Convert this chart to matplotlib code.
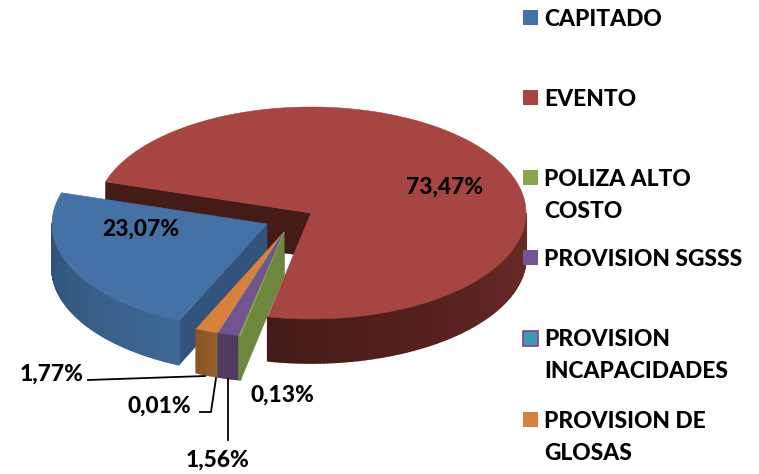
import matplotlib
matplotlib.use("Agg")
import matplotlib.pyplot as plt
import numpy as np
from matplotlib.colors import to_rgb
from matplotlib.patches import Polygon, Rectangle

plt.rcParams['font.family'] = ['Lato', 'DejaVu Sans']

categories = ["CAPITADO", "EVENTO", "POLIZA ALTO\nCOSTO", "PROVISION SGSSS",
              "PROVISION\nINCAPACIDADES", "PROVISION DE\nGLOSAS"]
values = [23.07, 73.47, 0.13, 1.56, 0.01, 1.77]
labels = ["23,07%", "73,47%", "0,13%", "1,56%", "0,01%", "1,77%"]

# pie geometry, in pixels of the picture
center = (311, 213)
rx, ry = 215, 106
depth = 44
start_angle = 245.9
shift = [(-44, 11), (0, 0), (-27, 19), (-27, 19), (-27, 19), (-27, 19)]

top_col = ["#4571a4", "#a64541", "#8aa64e", "#71558f", "#4198af", "#d8813c"]
face_col = ["#32547c", "#451b18", "#6c883e", "#4f3a60", "#2f7080", "#955d2b"]
side_a = ["#3f6896", "#6c2b28", "#6c883e", "#4f3a60", "#2f7080", "#9a602c"]
side_b = ["#2f5278", "#431a17", "#6c883e", "#4f3a60", "#2f7080", "#8a5627"]
legend_y = [18, 98, 178, 258, 339, 420]
WEIGHT = 900
FS = 16.4


def pt(cx, cy, ang, dz=0):
    a = np.radians(ang)
    return cx + rx*np.cos(a), cy - ry*np.sin(a) + dz


def draw_slice(ax, i, s, e):
    cx = center[0] + shift[i][0]
    cy = center[1] + shift[i][1]
    apex = (cx, cy)
    # cut faces that look at the viewer
    if np.cos(np.radians(s)) < 0:
        ax.add_patch(Polygon([apex, pt(cx, cy, s), pt(cx, cy, s, depth), (cx, cy+depth)],
                             fc=face_col[i], ec=face_col[i], lw=0.4))
    if np.cos(np.radians(e)) > 0:
        ax.add_patch(Polygon([apex, pt(cx, cy, e), pt(cx, cy, e, depth), (cx, cy+depth)],
                             fc=face_col[i], ec=face_col[i], lw=0.4))
    # outer wall, front half only
    angs = np.linspace(s, e, max(int(abs(s-e)), 2) + 1)
    fronts = [(a0, a1) for a0, a1 in zip(angs[:-1], angs[1:]) if np.sin(np.radians((a0+a1)/2)) < 0]
    c0, c1 = np.array(to_rgb(side_a[i])), np.array(to_rgb(side_b[i]))
    for k, (a0, a1) in enumerate(fronts):
        col = c0 + (c1-c0)*k/max(len(fronts)-1, 1)
        ax.add_patch(Polygon([pt(cx, cy, a0), pt(cx, cy, a1), pt(cx, cy, a1, depth), pt(cx, cy, a0, depth)],
                             fc=col, ec=col, lw=1.2, joinstyle="round"))
    # top
    t = np.linspace(s, e, max(int(abs(s-e)), 2) + 1)
    ax.add_patch(Polygon([apex] + [pt(cx, cy, a) for a in t], fc=top_col[i], ec=top_col[i], lw=0.4))


fig = plt.figure(figsize=(7.59, 4.74), dpi=100)
ax = fig.add_axes([0, 0, 1, 1])
ax.set_xlim(0, 759)
ax.set_ylim(474, 0)
ax.axis("off")

total = sum(values)
spans = [v/total*360 for v in values]
ends = start_angle - np.cumsum(spans)
starts = np.r_[start_angle, ends[:-1]]

for i in [1, 0, 5, 4, 3, 2]:
    draw_slice(ax, i, starts[i], ends[i])

# leader lines
ax.plot([88, 205], [380, 376], color="black", lw=1.3)
ax.plot([200, 211, 216], [412, 412, 378], color="black", lw=1.3)
ax.plot([228, 228], [379, 440], color="black", lw=1.3)

# data labels
label_pos = [(141, 229), (445, 187), (282, 395), (218, 460), (159, 406), (52, 374)]
for lab, (x, y) in zip(labels, label_pos):
    ax.text(x, y, lab, ha="center", va="center", fontsize=FS, fontweight=WEIGHT, color="black")

# legend
for i, cat in enumerate(categories):
    ec = "#7d3fa0" if i == 4 else top_col[i]
    ax.add_patch(Rectangle((523, legend_y[i]-8), 15, 15, fc=top_col[i], ec=ec, lw=1.2 if i == 4 else 0))
    ax.text(544, legend_y[i]+1, cat.split("\n")[0], ha="left", va="center", fontsize=FS, fontweight=WEIGHT)
    if "\n" in cat:
        ax.text(544, legend_y[i]+33, cat.split("\n")[1], ha="left", va="center", fontsize=FS, fontweight=WEIGHT)

fig.savefig("out.png", dpi=100)
